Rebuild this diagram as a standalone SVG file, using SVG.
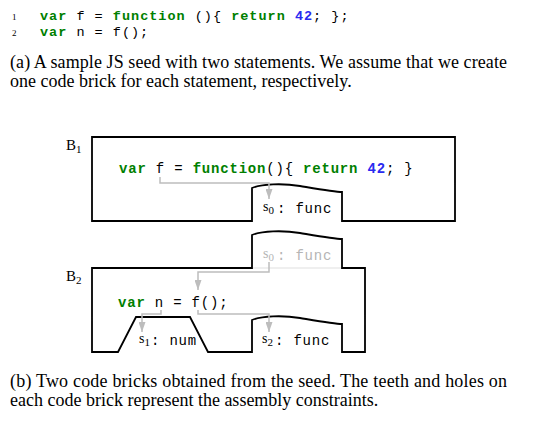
<svg xmlns="http://www.w3.org/2000/svg" width="552" height="423" viewBox="0 0 552 423">
<defs>
<style>
.code{font-family:"Liberation Mono","Courier New",monospace;font-size:14px;letter-spacing:0.8px;white-space:pre;fill:#000}
.top{font-size:13.5px;letter-spacing:1px}
.kw{fill:#008000;font-weight:bold}
.num{fill:#2a2af0;font-weight:bold}
.cap{font-family:"Liberation Serif","Times New Roman",serif;font-size:18px;fill:#000}
.lbl{font-family:"Liberation Serif","Times New Roman",serif;font-size:15px;fill:#000}
.ln{font-family:"Liberation Serif",serif;font-size:9px;fill:#000}
.brick{fill:none;stroke:#000;stroke-width:1.8;stroke-linejoin:miter}
.conn{fill:none;stroke:#bdbdbd;stroke-width:1.5}
.sv{font-family:"Liberation Serif",serif;font-size:14px}
.ss{font-family:"Liberation Serif",serif;font-size:11px}
.ghost{fill:#b5b5b5}
</style>
<marker id="ah" viewBox="0 0 10 10" refX="10" refY="5" markerWidth="10" markerHeight="7" preserveAspectRatio="none" markerUnits="userSpaceOnUse" orient="auto">
<path d="M0,0 L10,5 L0,10 Z" fill="#bdbdbd"/>
</marker>
</defs>
<rect width="552" height="423" fill="#fff"/>

<g id="listing">
<text class="ln" x="12" y="20">1</text>
<text class="ln" x="12" y="36">2</text>
<text class="code top" x="40" y="20"><tspan class="kw">var</tspan> f = <tspan class="kw">function</tspan> (){ <tspan class="kw">return</tspan> <tspan class="num">42</tspan>; };</text>
<text class="code top" x="40" y="36"><tspan class="kw">var</tspan> n = f();</text>
</g>

<g id="caption-a">
<text class="cap" x="10" y="68" textLength="497" lengthAdjust="spacing">(a) A sample JS seed with two statements. We assume that we create</text>
<text class="cap" x="10" y="87">one code brick for each statement, respectively.</text>
</g>

<g id="brick-B1">
<text class="lbl" x="66" y="150">B<tspan font-size="11" dy="3">1</tspan></text>
<path class="brick" d="M92,137 H455 V221 H342 V192 C335,192 318,189 300,186 C282,183 262,184 252,188 V221 H92 Z"/>
<text class="code" x="119" y="173"><tspan class="kw">var</tspan> f = <tspan class="kw">function</tspan>(){ <tspan class="kw">return</tspan> <tspan class="num">42</tspan>; }</text>
<text x="263" y="211"><tspan class="sv">s</tspan><tspan class="ss" dy="3">0</tspan></text>
<text class="code" x="277" y="213">: func</text>
</g>

<g id="brick-B2">
<text class="lbl" x="66" y="281">B<tspan font-size="11" dy="3">2</tspan></text>
<line x1="252" y1="268" x2="342" y2="268" stroke="#e0e0e0" stroke-width="1.2"/>
<path class="brick" d="M92,268 H252 V235 C262,231 282,230 300,233 C318,236 335,239 342,239 V268 H365 V352 H342 V324 C335,324 318,321 300,318 C282,315 262,316 252,320 V352 H208 L190,317 H136 L118,352 H92 Z"/>
<text x="263" y="258" class="ghost"><tspan class="sv">s</tspan><tspan class="ss" dy="3">0</tspan></text>
<text class="code" x="277" y="260" style="fill:#b5b5b5">: func</text>
<text class="code" x="118" y="307"><tspan class="kw">var</tspan> n = f();</text>
<text x="139" y="343"><tspan class="sv">s</tspan><tspan class="ss" dy="3">1</tspan></text>
<text class="code" x="151" y="345">: num</text>
<text x="262" y="343"><tspan class="sv">s</tspan><tspan class="ss" dy="3">2</tspan></text>
<text class="code" x="275" y="345">: func</text>
</g>

<g id="connectors">
<path class="conn" d="M160,177 V183 H269 V199" marker-end="url(#ah)"/>
<path class="conn" d="M269,262 V272 H198 V290" marker-end="url(#ah)"/>
<path class="conn" d="M161,310 V314 H142 V332" marker-end="url(#ah)"/>
<path class="conn" d="M198,310 V314 H269 V332" marker-end="url(#ah)"/>
</g>

<g id="caption-b">
<text class="cap" x="10" y="387" textLength="497" lengthAdjust="spacing">(b) Two code bricks obtained from the seed. The teeth and holes on</text>
<text class="cap" x="10" y="406">each code brick represent the assembly constraints.</text>
</g>
</svg>
